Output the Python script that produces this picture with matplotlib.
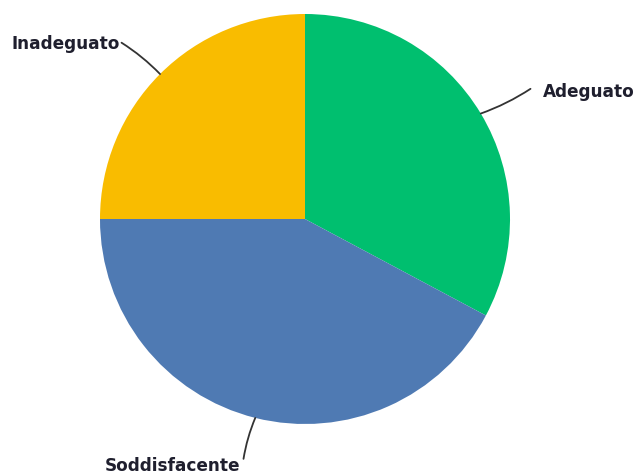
import numpy as np
import matplotlib.pyplot as plt

# Share of responses per rating
labels = ['Adeguato', 'Soddisfacente', 'Inadeguato']
values = [32.8, 42.2, 25.0]
colors = ['#00BF6F', '#4F7AB3', '#F9BC00']

# where each label sits (data units, pie radius = 1)
label_pos = {
    'Adeguato': ((1.16, 0.62), 'left', (1.10, 0.635)),
    'Soddisfacente': ((-0.645, -1.205), 'center', (-0.30, -1.17)),
    'Inadeguato': ((-0.905, 0.855), 'right', (-0.895, 0.86)),
}

fig = plt.figure(figsize=(6.36, 4.74), dpi=100)
ax = fig.add_axes([0, 0, 1, 1])

wedges, _ = ax.pie(values, colors=colors, startangle=90, counterclock=False,
                   radius=1, wedgeprops=dict(linewidth=0))

# 1 data unit = 205 px, pie centre at (305, 219) from the top-left
ax.set_xlim(-305 / 205, (636 - 305) / 205)
ax.set_ylim(-(474 - 219) / 205, 219 / 205)
ax.set_aspect('equal')
ax.axis('off')

for w, lab in zip(wedges, labels):
    mid = np.deg2rad((w.theta1 + w.theta2) / 2)
    edge = (np.cos(mid), np.sin(mid))
    (tx, ty), ha, end = label_pos[lab]
    ax.annotate('', xy=edge, xytext=end,
                arrowprops=dict(arrowstyle='-', color='#333333', lw=1.3,
                                connectionstyle='arc3,rad=-0.06',
                                shrinkA=0, shrinkB=0))
    ax.text(tx, ty, lab, ha=ha, va='center', fontsize=12.2,
            fontweight='bold', family='DejaVu Sans', color='#1f1f2e')

fig.savefig('out.png', dpi=100)
